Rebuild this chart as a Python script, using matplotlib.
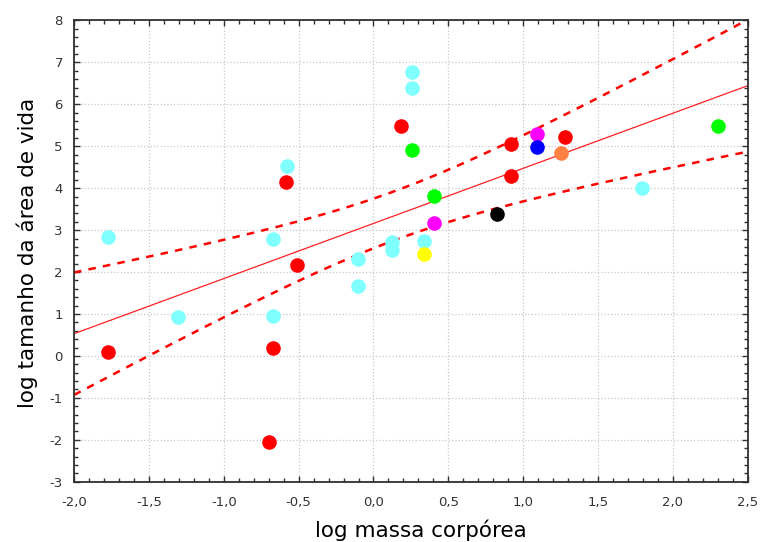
import matplotlib
matplotlib.use("Agg")
import matplotlib.pyplot as plt
from matplotlib.ticker import MultipleLocator, FuncFormatter
import numpy as np

plt.rcParams['font.family'] = ['DejaVu Sans']

# log body mass (x) and log home range size (y), grouped by marker colour
cyan_x = [-1.773, -1.308, -0.674, -0.674, -0.580, -0.102, -0.102, 0.121, 0.121, 0.258, 0.258, 0.334, 1.794]
cyan_y = [2.84, 0.92, 2.80, 0.95, 4.54, 2.32, 1.66, 2.71, 2.53, 6.78, 6.40, 2.75, 4.01]
red_x = [-1.775, -0.696, -0.674, -0.585, -0.513, 0.183, 0.915, 0.915, 1.276]
red_y = [0.09, -2.06, 0.20, 4.15, 2.17, 5.48, 5.05, 4.28, 5.21]
green_x = [0.258, 0.403, 2.301]
green_y = [4.91, 3.81, 5.48]
magenta_x = [0.403, 1.093]
magenta_y = [3.18, 5.29]
blue_x = [1.093]
blue_y = [4.99]
black_x = [0.828]
black_y = [3.39]
yellow_x = [0.334]
yellow_y = [2.43]
orange_x = [1.251]
orange_y = [4.83]

groups = [
    (cyan_x, cyan_y, '#80ffff'),
    (red_x, red_y, '#ff0000'),
    (green_x, green_y, '#00ff00'),
    (magenta_x, magenta_y, '#ff00ff'),
    (blue_x, blue_y, '#0000ff'),
    (black_x, black_y, '#000000'),
    (yellow_x, yellow_y, '#ffff00'),
    (orange_x, orange_y, '#ff8040'),
]

fig = plt.figure(figsize=(7.6, 5.42), dpi=100)
ax = fig.add_axes([0.0974, 0.1113, 0.8866, 0.8509])

# regression line with 95% confidence band, from all points
xs = np.array(sum([g[0] for g in groups], []))
ys = np.array(sum([g[1] for g in groups], []))
n = len(xs)
b, a = np.polyfit(xs, ys, 1)
resid = ys - (a + b * xs)
s = np.sqrt(np.sum(resid ** 2) / (n - 2))
sxx = np.sum((xs - xs.mean()) ** 2)
t = 2.045  # t(0.975, df=29)
xx = np.linspace(-2.0, 2.5, 200)
fit = a + b * xx
half = t * s * np.sqrt(1.0 / n + (xx - xs.mean()) ** 2 / sxx)

ax.plot(xx, fit, color='#ff2020', lw=0.9, zorder=2)
ax.plot(xx, fit + half, color='#ff0000', lw=1.8, ls=(0, (3, 2.9)), zorder=2)
ax.plot(xx, fit - half, color='#ff0000', lw=1.8, ls=(0, (3, 2.9)), zorder=2)

for gx, gy, c in groups:
    ax.plot(gx, gy, 'o', color=c, markersize=10.5, markeredgewidth=0, zorder=3)

ax.set_xlim(-2.0, 2.5)
ax.set_ylim(-3, 8)
ax.xaxis.set_major_locator(MultipleLocator(0.5))
ax.xaxis.set_minor_locator(MultipleLocator(0.1))
ax.yaxis.set_major_locator(MultipleLocator(1))
ax.yaxis.set_minor_locator(MultipleLocator(0.2))
ax.xaxis.set_major_formatter(FuncFormatter(lambda v, p: ('%.1f' % v).replace('.', ',')))
ax.yaxis.set_major_formatter(FuncFormatter(lambda v, p: '%d' % v))

ax.grid(True, which='major', color='#c8c8c8', ls=':', lw=0.9, zorder=0)
ax.tick_params(which='both', direction='in', top=True, right=True, colors='#303030',
               labelsize=9.5, labelcolor='#333333')
ax.tick_params(which='major', length=4, width=1)
ax.tick_params(which='minor', length=3, width=1)
ax.tick_params(axis='x', pad=10)
ax.tick_params(axis='y', pad=8)
for sp in ax.spines.values():
    sp.set_color('#303030')
    sp.set_linewidth(1.3)

ax.set_xlabel('log massa corpórea', fontsize=15.5)
ax.set_ylabel('log tamanho da área de vida', fontsize=15.5)
ax.xaxis.set_label_coords(0.515, -0.081)
ax.yaxis.set_label_coords(-0.054, 0.497)

plt.savefig("out.png", dpi=100)
